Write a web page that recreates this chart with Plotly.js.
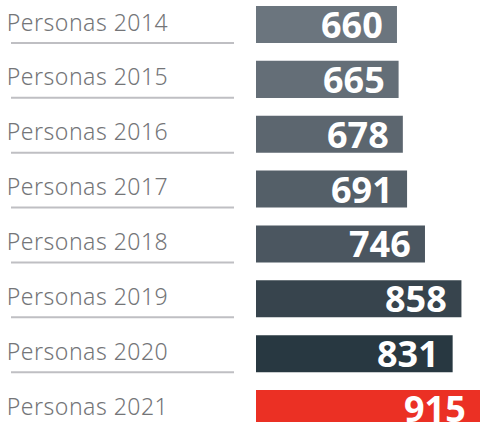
<!DOCTYPE html>
<html>
<head>
<meta charset="utf-8">
<script src="https://cdn.plot.ly/plotly-3.0.1.min.js"></script>
<style>
html,body{margin:0;padding:0;background:#fff;}
#chart{width:480px;height:422px;}
</style>
</head>
<body>
<div id="chart"></div>
<script>
const categories = ["Personas 2014","Personas 2015","Personas 2016","Personas 2017","Personas 2018","Personas 2019","Personas 2020","Personas 2021"];
const values = [660, 665, 678, 691, 746, 858, 831, 915];
const valueLabels = ["660","665","678","691","746","858","831","915"];
const barColors = ["#6b757e","#646e77","#5c666f","#545f68","#4b5660","#37444d","#283841","#eb3024"];

const idx = categories.map((_, i) => i);

const trace = {
  type: 'bar',
  orientation: 'h',
  y: idx,
  x: values,
  width: 0.675,
  marker: {color: barColors, line: {width: 0}},
  hoverinfo: 'skip'
};

const annotations = [];
const shapes = [];
categories.forEach((c, i) => {
  annotations.push({
    xref: 'paper', yref: 'y', x: 9/480, y: i, xanchor: 'left', yanchor: 'middle',
    text: c, showarrow: false, yshift: 3, borderpad: 0,
    font: {family: 'Noto Sans, sans-serif', size: 23, color: '#747578', weight: 300}
  });
  annotations.push({
    xref: 'x', yref: 'y', x: values[i], y: i, xanchor: 'right', yanchor: 'middle',
    text: valueLabels[i], showarrow: false, xshift: -12, yshift: 0,
    font: {family: 'Noto Sans, sans-serif', size: 36, color: '#ffffff', weight: 700}
  });
  shapes.push({
    type: 'line', xref: 'paper', yref: 'y', x0: 11/480, x1: 234/480,
    y0: i + 0.337, y1: i + 0.337,
    line: {color: '#bfbfc3', width: 2}
  });
});

const layout = {
  width: 480, height: 422,
  margin: {l: 0, r: 0, t: 0, b: 0, pad: 0},
  paper_bgcolor: '#ffffff', plot_bgcolor: '#ffffff',
  showlegend: false,
  xaxis: {domain: [256/480, 1], range: [227, 915], visible: false, fixedrange: true},
  yaxis: {range: [7.246, -0.447], visible: false, fixedrange: true},
  annotations: annotations,
  shapes: shapes
};

Plotly.newPlot('chart', [trace], layout, {displayModeBar: false, staticPlot: true}).then(() => {
  document.querySelectorAll('.annotation-text').forEach(t => {
    if (t.textContent.indexOf('Personas') === 0) t.style.letterSpacing = '0.5px';
  });
});
</script>
</body>
</html>
